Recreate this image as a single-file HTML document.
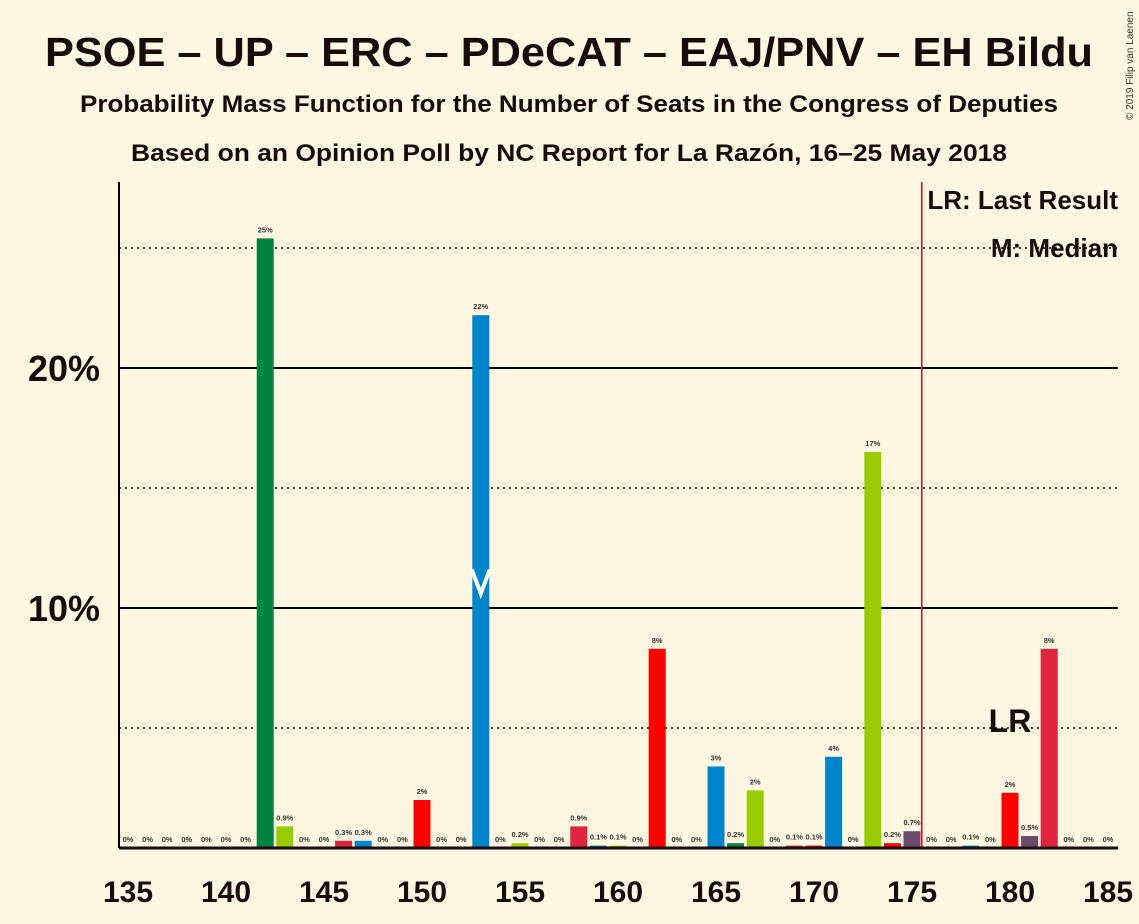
<!DOCTYPE html>
<html><head><meta charset="utf-8"><style>
body{margin:0;background:#fdf6e0;}
svg{display:block;font-family:"Liberation Sans",sans-serif;}
</style></head><body>
<svg width="1139" height="924">
<rect width="1139" height="924" fill="#fdf6e0"/>
<text x="45" y="66" textLength="1048" lengthAdjust="spacingAndGlyphs" font-size="41" font-weight="bold" fill="#1a0a0a">PSOE – UP – ERC – PDeCAT – EAJ/PNV – EH Bildu</text>
<text x="80" y="112" textLength="978" lengthAdjust="spacingAndGlyphs" font-size="24" font-weight="bold" fill="#1a0a0a">Probability Mass Function for the Number of Seats in the Congress of Deputies</text>
<text x="131" y="161" textLength="876" lengthAdjust="spacingAndGlyphs" font-size="24" font-weight="bold" fill="#1a0a0a">Based on an Opinion Poll by NC Report for La Razón, 16–25 May 2018</text>
<text x="1133" y="120" font-size="10" fill="#333" transform="rotate(-90 1133 120)">© 2019 Filip van Laenen</text>
<g id="grid"></g>
<g id="bars"></g>
<g id="xaxis"></g>
<text x="1118" y="209" text-anchor="end" font-size="26" font-weight="bold" fill="#1a0a0a">LR: Last Result</text>
<text x="1118" y="257" text-anchor="end" font-size="26" font-weight="bold" fill="#1a0a0a">M: Median</text>
</svg>
<script>
const seats=[135,136,137,138,139,140,141,142,143,144,145,146,147,148,149,150,151,152,153,154,155,156,157,158,159,160,161,162,163,164,165,166,167,168,169,170,171,172,173,174,175,176,177,178,179,180,181,182,183,184,185];
const probs=[0,0,0,0,0,0,0,25.4,0.9,0,0,0.3,0.3,0,0,2.0,0,0,22.2,0,0.2,0,0,0.9,0.1,0.1,0,8.3,0,0,3.4,0.2,2.4,0,0.1,0.1,3.8,0,16.5,0.2,0.7,0,0,0.1,0,2.3,0.5,8.3,0,0,0];
const labels=["0%","0%","0%","0%","0%","0%","0%","25%","0.9%","0%","0%","0.3%","0.3%","0%","0%","2%","0%","0%","22%","0%","0.2%","0%","0%","0.9%","0.1%","0.1%","0%","8%","0%","0%","3%","0.2%","2%","0%","0.1%","0.1%","4%","0%","17%","0.2%","0.7%","0%","0%","0.1%","0%","2%","0.5%","8%","0%","0%","0%"];
const xTicks=[135,140,145,150,155,160,165,170,175,180,185];
const yTicks=[10,20];
const yDotted=[5,15,25];
const lastResult=175.5, median=153, lrLabelSeat=180;
const colorMap={142:"#00843d",143:"#99cc00",146:"#e0253f",147:"#0085cc",150:"#ff0000",153:"#0085cc",155:"#99cc00",158:"#e0253f",159:"#0085cc",160:"#99cc00",162:"#ff0000",165:"#0085cc",166:"#00843d",167:"#99cc00",169:"#e0253f",170:"#ff0000",171:"#0085cc",173:"#99cc00",174:"#ff0000",175:"#6b4c6e",178:"#0085cc",180:"#ff0000",181:"#6b4c6e",182:"#e0253f"};
const NS="http://www.w3.org/2000/svg";
const X=s=>128+(s-135)*19.6, Y=v=>848-v*24;
function mk(t,a,p){const e=document.createElementNS(NS,t);for(const k in a)e.setAttribute(k,a[k]);p.appendChild(e);return e;}
const grid=document.getElementById('grid'),bars=document.getElementById('bars'),xa=document.getElementById('xaxis');
yDotted.forEach(v=>{const l=mk('line',{x1:119,x2:1118,y1:Y(v),y2:Y(v),stroke:'#000','stroke-width':1.5,'stroke-dasharray':'2,4'},grid);

});
yTicks.forEach(v=>{const l=mk('line',{x1:119,x2:1118,y1:Y(v),y2:Y(v),stroke:'#000','stroke-width':2},grid);


const t=mk('text',{x:100,y:Y(v)+13,'text-anchor':'end','font-size':36,'font-weight':'bold',fill:'#1a0a0a'},grid);t.textContent=v+'%';

});
seats.forEach((s,i)=>{const v=probs[i],c=colorMap[s]||'#999';
if(v>0){const r=mk('rect',{x:X(s)-8.5,y:Y(v),width:17,height:v*24,fill:c},bars);

}
const t=mk('text',{x:X(s),y:Y(v)-6,'text-anchor':'middle','font-size':7.5,'font-weight':'bold',fill:'#333'},bars);t.textContent=labels[i];

});
const mx=X(median);
const m=mk('polyline',{points:`${mx-9},${Y(11.6)} ${mx},${Y(10.6)} ${mx+9},${Y(11.6)}`,fill:'none',stroke:'#fff','stroke-width':4},bars);


const lr=mk('line',{x1:X(lastResult),x2:X(lastResult),y1:182,y2:848,stroke:'#e0001a','stroke-width':1.5},bars);


const lt=mk('text',{x:X(lrLabelSeat),y:Y(5)+4,'text-anchor':'middle','font-size':32,'font-weight':'bold',fill:'#1a0a0a'},bars);lt.textContent='LR';


const ax=mk('line',{x1:119,x2:119,y1:182,y2:848,stroke:'#000','stroke-width':2},xa);


const bx=mk('line',{x1:119,x2:1118,y1:848,y2:848,stroke:'#1a0a0a','stroke-width':3},xa);


xTicks.forEach(s=>{const t=mk('text',{x:X(s),y:902,'text-anchor':'middle','font-size':30,'font-weight':'bold',fill:'#1a0a0a'},xa);t.textContent=s;

});
</script>
</body></html>
